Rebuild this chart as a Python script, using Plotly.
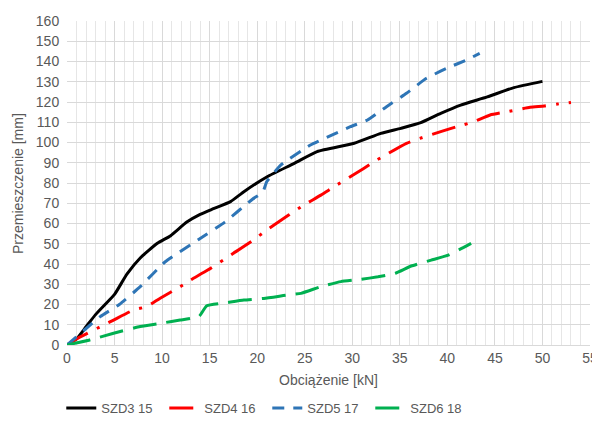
import plotly.graph_objects as go

# SZD3 15
x_szd3 = [0, 1.0, 2.0, 3.0, 4.0, 5.0, 6.3, 7.7, 9.5, 10.9, 12.6, 14.0, 15.4, 17.2, 18.6, 21.05, 23.9, 26.3, 30.2, 33.0, 35.1, 37.2, 39.3, 41.4, 44.2, 47.0, 50.0]
y_szd3 = [0, 3.0, 9.0, 15.0, 20.0, 25.0, 35.0, 43.0, 50.2, 54.0, 60.7, 64.5, 67.3, 70.8, 75.7, 83.1, 89.7, 95.5, 99.6, 104.5, 107.0, 109.8, 114.4, 118.5, 122.5, 127.1, 130.2]

# SZD4 16
x_szd4 = [0, 1.0, 3.5, 4.9, 7.0, 8.4, 9.8, 11.9, 13.0, 14.8, 17.5, 19.6, 21.0, 22.0, 24.6, 26.7, 28.1, 31.2, 32.6, 35.7, 37.1, 39.3, 41.0, 42.8, 44.5, 46.3, 48.7, 50.2, 51.6, 53.0]
y_szd4 = [0, 3.0, 9.0, 12.3, 17.3, 19.0, 23.1, 28.8, 32.1, 37.0, 45.3, 51.8, 56.8, 60.0, 68.2, 74.0, 78.2, 87.2, 91.4, 99.6, 102.0, 105.4, 107.8, 110.3, 113.6, 115.2, 117.4, 118.0, 119.0, 119.8]

# SZD5 17
x_szd5 = [0, 3.5, 5.5, 7.7, 10.3, 13.8, 16.6, 19.5, 20.6, 21.0, 22.5, 25.6, 26.7, 29.8, 31.6, 33.6, 35.7, 37.8, 39.9, 42.0, 43.4]
y_szd5 = [0, 14.0, 20.0, 28.8, 41.0, 52.0, 60.7, 72.0, 75.5, 80.6, 88.9, 98.8, 101.2, 107.8, 111.1, 117.7, 124.3, 131.7, 136.6, 140.7, 144.0]

# SZD6 18
x_szd6 = [0, 2.4, 4.9, 7.7, 9.8, 11.9, 13.9, 14.7, 16.8, 18.6, 20.7, 23.2, 24.6, 26.7, 28.8, 30.9, 32.7, 34.5, 36.2, 38.3, 40.1, 41.5, 42.5]
y_szd6 = [0, 2.5, 5.8, 9.1, 10.7, 12.3, 14.2, 19.4, 20.9, 22.2, 23.0, 24.7, 25.5, 28.8, 31.3, 32.4, 33.7, 35.4, 39.0, 41.9, 44.4, 47.7, 50.2]

x_ticks = list(range(0, 56, 5))
y_ticks = list(range(0, 161, 10))

fig = go.Figure()
fig.add_trace(go.Scatter(x=x_szd3, y=y_szd3, mode="lines", name="SZD3 15",
                         line=dict(color="#000000", width=3, shape="spline", smoothing=0.5)))
fig.add_trace(go.Scatter(x=x_szd4, y=y_szd4, mode="lines", name="SZD4 16",
                         line=dict(color="#FF0000", width=3, shape="spline", smoothing=0.5,
                                   dash="24px,10px,3px,10px")))
fig.add_trace(go.Scatter(x=x_szd5, y=y_szd5, mode="lines", name="SZD5 17",
                         line=dict(color="#2E75B6", width=3, shape="spline", smoothing=0.4,
                                   dash="12px,9px")))
fig.add_trace(go.Scatter(x=x_szd6, y=y_szd6, mode="lines", name="SZD6 18",
                         line=dict(color="#00B050", width=3, shape="spline", smoothing=0.4,
                                   dash="24px,10px")))

tick_font = dict(family="Liberation Sans, Arial, sans-serif", size=14, color="#595959")

fig.update_layout(
    width=592, height=417,
    margin=dict(l=59, r=10, t=13, b=80, autoexpand=False),
    paper_bgcolor="white", plot_bgcolor="white",
    font=dict(family="Liberation Sans, Arial, sans-serif", size=14, color="#595959"),
    showlegend=True,
    legend=dict(orientation="h", xref="container", x=0.09, xanchor="left",
                y=-0.148, yanchor="top", entrywidth=58, entrywidthmode="pixels",
                font=dict(size=13, color="#595959"), traceorder="normal"),
    xaxis=dict(range=[0, 55], tickmode="array", tickvals=x_ticks, ticktext=[str(v) for v in x_ticks],
               showgrid=True, gridcolor="#D9D9D9", gridwidth=1,
               minor=dict(dtick=1, showgrid=True, gridcolor="#E6E6E6", gridwidth=1),
               zeroline=False, showline=True, linecolor="#D9D9D9",
               tickfont=tick_font, ticks="",
               title=dict(text="Obciążenie [kN]", font=dict(size=14, color="#595959"), standoff=10)),
    yaxis=dict(range=[0, 160], tickmode="array", tickvals=y_ticks, ticktext=[str(v) for v in y_ticks],
               showgrid=True, gridcolor="#D9D9D9", gridwidth=1,
               ticks="outside", ticklen=4, tickcolor="rgba(0,0,0,0)",
               zeroline=False, showline=False, tickfont=tick_font),
    annotations=[dict(text="Przemieszczenie [mm]", textangle=-90, showarrow=False,
                      xref="paper", yref="paper", x=-0.0937, y=0.5,
                      xanchor="center", yanchor="middle",
                      font=dict(size=14, color="#595959"))],
)

fig.write_html("out.html")
